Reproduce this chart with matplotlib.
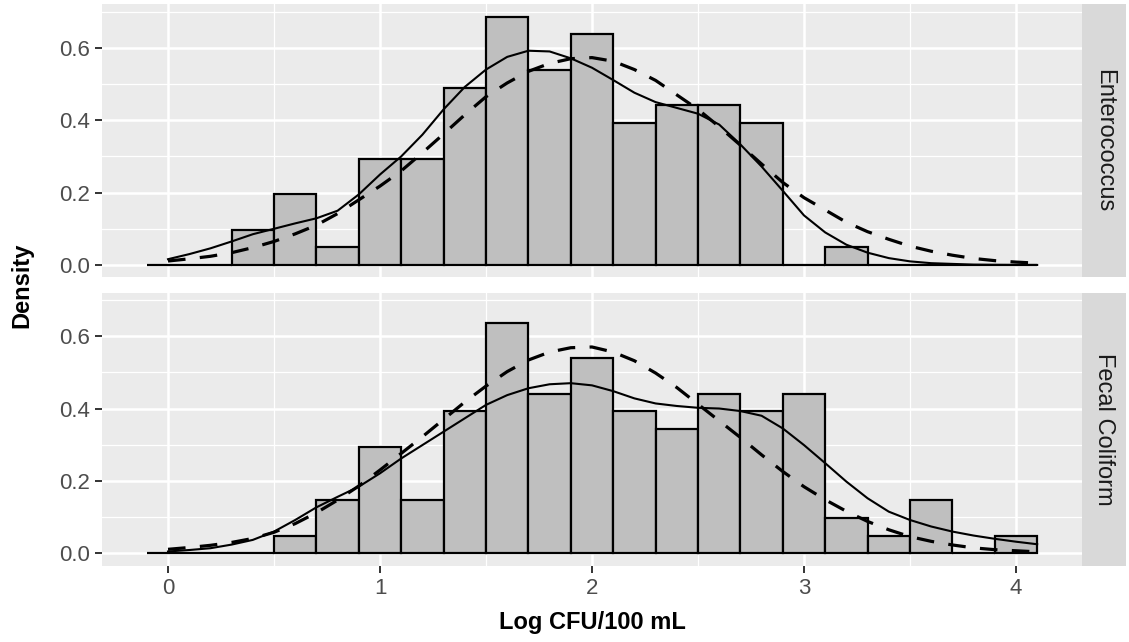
import numpy as np
import matplotlib
matplotlib.use("Agg")
import matplotlib.pyplot as plt

plt.rcParams['font.family'] = ['Liberation Sans', 'DejaVu Sans']

# histogram: bins of width 0.2 from -0.1 to 4.1 (density values)
bin_left = np.round(np.arange(-0.1, 4.09, 0.2), 2)
dens_entero = [0, 0, 0.098, 0.196, 0.049, 0.294, 0.294, 0.490, 0.686, 0.539, 0.637,
               0.392, 0.441, 0.441, 0.392, 0, 0.049, 0, 0, 0, 0]
dens_fecal = [0, 0, 0, 0.049, 0.147, 0.294, 0.147, 0.392, 0.637, 0.441, 0.539,
              0.392, 0.343, 0.441, 0.392, 0.441, 0.098, 0.049, 0.147, 0, 0.049]

# density curves (x = 0 .. 4.1 step 0.1)
curve_x = np.round(np.arange(0, 4.15, 0.1), 2)
kde_entero = [0.016, 0.030, 0.046, 0.065, 0.085, 0.100, 0.115, 0.129, 0.150, 0.195,
              0.250, 0.300, 0.360, 0.430, 0.492, 0.540, 0.575, 0.592, 0.590, 0.571,
              0.545, 0.511, 0.476, 0.450, 0.434, 0.418, 0.388, 0.333, 0.272, 0.205,
              0.137, 0.090, 0.056, 0.034, 0.019, 0.010, 0.005, 0.003, 0.001, 0.0005,
              0.0002, 0.0001]
norm_entero = [0.011, 0.017, 0.024, 0.034, 0.048, 0.065, 0.086, 0.110, 0.142, 0.180,
               0.218, 0.260, 0.310, 0.362, 0.415, 0.465, 0.503, 0.535, 0.557, 0.570,
               0.573, 0.563, 0.540, 0.510, 0.470, 0.430, 0.382, 0.331, 0.279, 0.228,
               0.186, 0.152, 0.118, 0.092, 0.071, 0.052, 0.038, 0.027, 0.018, 0.012,
               0.008, 0.005]
kde_fecal = [0.005, 0.009, 0.014, 0.024, 0.037, 0.060, 0.092, 0.127, 0.156, 0.184,
             0.221, 0.262, 0.299, 0.336, 0.373, 0.410, 0.437, 0.456, 0.467, 0.470,
             0.464, 0.448, 0.428, 0.414, 0.407, 0.402, 0.400, 0.393, 0.380, 0.345,
             0.299, 0.249, 0.198, 0.152, 0.115, 0.092, 0.074, 0.060, 0.049, 0.040,
             0.032, 0.025]
norm_fecal = [0.011, 0.016, 0.022, 0.030, 0.041, 0.058, 0.082, 0.112, 0.147, 0.186,
              0.230, 0.276, 0.322, 0.370, 0.418, 0.462, 0.502, 0.534, 0.556, 0.568,
              0.570, 0.556, 0.532, 0.498, 0.458, 0.412, 0.366, 0.320, 0.272, 0.226,
              0.184, 0.148, 0.116, 0.088, 0.065, 0.046, 0.033, 0.023, 0.015, 0.010,
              0.007, 0.004]

panels = [("Enterococcus", dens_entero, kde_entero, norm_entero),
          ("Fecal Coliform", dens_fecal, kde_fecal, norm_fecal)]

W, H = 1129, 642
fig = plt.figure(figsize=(W / 100, H / 100), dpi=100)

left, right = 102.3, 1081.7
strip_w = 44.5
tops = [4.4, 292.7]
ph = 273.0

for i, (name, dens, kde, norm) in enumerate(panels):
    top = tops[i]
    ax = fig.add_axes([left / W, 1 - (top + ph) / H, (right - left) / W, ph / H])
    ax.set_facecolor('#EBEBEB')
    ax.set_xlim(-0.31, 4.31)
    ax.set_ylim(-0.0343, 0.72)
    ax.set_axisbelow(True)
    ax.set_xticks([0, 1, 2, 3, 4])
    ax.set_xticks([0.5, 1.5, 2.5, 3.5], minor=True)
    ax.set_yticks([0, 0.2, 0.4, 0.6])
    ax.set_yticks([0.1, 0.3, 0.5, 0.7], minor=True)
    ax.set_yticklabels(["0.0", "0.2", "0.4", "0.6"])
    ax.grid(which='major', color='white', linewidth=1.8)
    ax.grid(which='minor', color='white', linewidth=0.9)
    for s in ax.spines.values():
        s.set_visible(False)
    ax.tick_params(which='minor', length=0)
    ax.tick_params(which='major', color='#333333', width=1.4, length=5,
                   labelsize=16, labelcolor='#4D4D4D', pad=4)
    if i == 0:
        ax.tick_params(axis='x', which='major', length=0, labelbottom=False)
    else:
        ax.set_xticklabels(["0", "1", "2", "3", "4"])

    ax.bar(bin_left, dens, width=0.2, align='edge', color='#BFBFBF',
           edgecolor='black', linewidth=1.6, zorder=2)
    ax.plot(curve_x, kde, color='black', linewidth=1.5, zorder=3,
            solid_joinstyle='round')
    ax.plot(curve_x, norm, color='black', linewidth=2.3,
            linestyle=(0, (5.5, 4.5)), zorder=3)

    sax = fig.add_axes([right / W, 1 - (top + ph) / H, strip_w / W, ph / H])
    sax.set_facecolor('#D9D9D9')
    sax.set_xticks([])
    sax.set_yticks([])
    for s in sax.spines.values():
        s.set_visible(False)
    sax.text(0.5, 0.5, name, rotation=-90, ha='center', va='center',
             fontsize=17, color='#1A1A1A', transform=sax.transAxes)

fig.text(22 / W, 1 - 285 / H, "Density", rotation=90, ha='center', va='center',
         fontsize=17, fontweight='bold')
fig.text((left + right) / 2 / W, 1 - 622 / H, "Log CFU/100 mL", ha='center',
         va='center', fontsize=17, fontweight='bold')

fig.savefig("out.png", dpi=100)
